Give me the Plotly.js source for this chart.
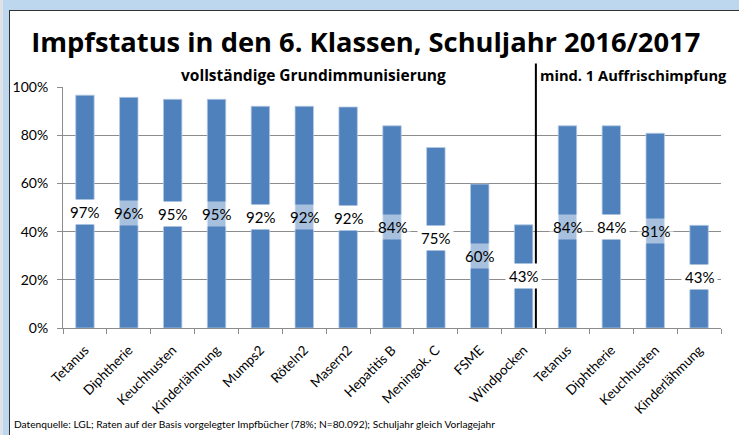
<!DOCTYPE html>
<html>
<head>
<meta charset="utf-8">
<script src="https://cdn.plot.ly/plotly-3.0.1.min.js"></script>
<style>
  html, body { margin: 0; padding: 0; width: 739px; height: 435px; overflow: hidden; background: #bdd7ee; }
  #strip { position: absolute; left: 0; top: 0; width: 3px; height: 435px; background: #dfe3e8; }
  #chart { position: absolute; left: 9px; top: 10px; width: 729px; height: 424px;
           border-left: 1px solid #333; border-top: 1px solid #333; background: #fff; }
</style>
</head>
<body>
<div id="strip"></div>
<div id="chart"></div>
<script>
// ---- data ----
const categories = ["Tetanus", "Diphtherie", "Keuchhusten", "Kinderlähmung", "Mumps2", "Röteln2", "Masern2",
  "Hepatitis B", "Meningok. C", "FSME", "Windpocken", "Tetanus", "Diphtherie", "Keuchhusten", "Kinderlähmung"];
const values = [96.6, 95.7, 94.9, 94.9, 92.0, 92.0, 91.7, 83.9, 74.9, 59.7, 42.8, 83.9, 83.9, 80.8, 42.6];
const labelPatterned = [false, true, false, true, false, true, false, true, false, true, false, true, false, true, false];
const yTickVals = [0, 0.2, 0.4, 0.6, 0.8, 1.0];
const yTickText = ["0%", "20%", "40%", "60%", "80%", "100%"];
const groupTitles = ["vollständige Grundimmunisierung", "mind. 1 Auffrischimpfung"];
const chartTitle = "Impfstatus in den 6. Klassen, Schuljahr 2016/2017";
const footer = "Datenquelle: LGL; Raten auf der Basis vorgelegter Impfbücher (78%; N=80.092); Schuljahr gleich Vorlagejahr";

const FONT = "Lato, 'Open Sans', sans-serif";
const FONT2 = "'Open Sans', Lato, sans-serif";
const idx = categories.map((c, i) => i);
const yFrac = values.map(v => v / 100);
const boundaries = categories.map((c, i) => i - 0.5).concat([categories.length - 0.5]);

const traces = [
  {
    type: "bar", x: idx, y: yFrac, width: 0.42,
    marker: { color: "#4f81bd", line: { color: "#b4c9e3", width: 0.8 } },
    hoverinfo: "skip", showlegend: false
  },
  {
    type: "scatter", mode: "markers", x: boundaries, y: boundaries.map(() => 0),
    xaxis: "x2", yaxis: "y", marker: { opacity: 0 }, hoverinfo: "skip", showlegend: false
  }
];

const annotations = values.map((v, i) => ({
  x: i, y: v / 200, xref: "x", yref: "y",
  text: Math.round(v) + "%", showarrow: false,
  font: { family: FONT, size: 15, color: "#000" },
  bgcolor: labelPatterned[i] ? "rgba(255,255,255,0.5)" : "#ffffff",
  borderpad: 3, xanchor: "center", yanchor: "middle"
}));

annotations.push({
  x: 5.2, y: 1.048, xref: "x", yref: "paper", text: "<b>" + groupTitles[0] + "</b>",
  showarrow: false, font: { family: FONT2, size: 15.5, color: "#000" }, xanchor: "center", yanchor: "middle"
});
annotations.push({
  x: 10.33, y: 1.048, xref: "x", yref: "paper", text: "<b>" + groupTitles[1] + "</b>",
  showarrow: false, font: { family: FONT2, size: 14.7, color: "#000" }, xanchor: "left", yanchor: "middle"
});
annotations.push({
  x: -0.0775, y: -0.40, xref: "paper", yref: "paper", text: footer,
  showarrow: false, font: { family: FONT, size: 10.2, color: "#000" }, xanchor: "left", yanchor: "middle"
});

const layout = {
  width: 729, height: 424,
  margin: { l: 53, r: 18, t: 76, b: 107, pad: 0 },
  paper_bgcolor: "#ffffff", plot_bgcolor: "#ffffff",
  font: { family: FONT, size: 13, color: "#000" },
  title: {
    text: "<b>" + chartTitle + "</b>", x: 0.488, xanchor: "center", xref: "container",
    y: 0.927, yanchor: "middle", yref: "container",
    font: { family: FONT2, size: 27.3, color: "#000" }
  },
  xaxis: {
    range: [-0.5, categories.length - 0.5], tickmode: "array", tickvals: idx, ticktext: categories,
    tickangle: -45, ticks: "", showgrid: false, zeroline: false,
    showline: true, linecolor: "#8c8c8c", linewidth: 1, ticklabelstandoff: 8,
    tickfont: { family: FONT, size: 13.5, color: "#000" }, fixedrange: true
  },
  xaxis2: {
    overlaying: "x", anchor: "y", side: "bottom",
    range: [-0.5, categories.length - 0.5], tickmode: "array", tickvals: boundaries,
    ticks: "outside", ticklen: 5, tickcolor: "#8c8c8c", tickwidth: 1,
    showticklabels: false, showgrid: false, zeroline: false, showline: false
  },
  yaxis: {
    range: [0, 1], tickmode: "array", tickvals: yTickVals, ticktext: yTickText,
    ticks: "outside", ticklen: 5, tickcolor: "#8c8c8c",
    showgrid: true, gridcolor: "#8c8c8c", gridwidth: 1,
    showline: true, linecolor: "#8c8c8c", linewidth: 1, zeroline: false,
    tickfont: { family: FONT, size: 14, color: "#000" }, ticklabelstandoff: 6, fixedrange: true
  },
  shapes: [
    { type: "line", xref: "x", yref: "paper", x0: 10.28, x1: 10.28, y0: 0, y1: 1.098,
      line: { color: "#000", width: 2 } }
  ],
  annotations: annotations
};

Plotly.newPlot("chart", traces, layout, { displayModeBar: false, staticPlot: true });
</script>
</body>
</html>
